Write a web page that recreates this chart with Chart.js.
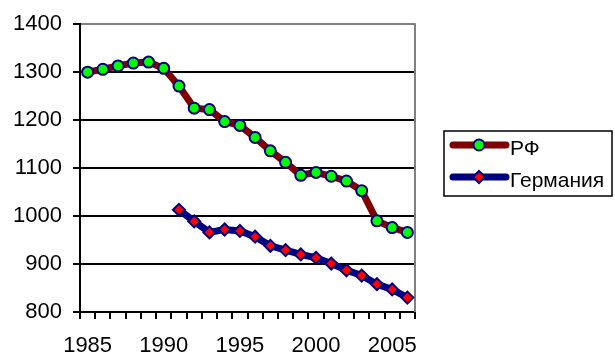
<!DOCTYPE html>
<html>
<head>
<meta charset="utf-8">
<script src="https://cdn.jsdelivr.net/npm/chart.js@4.4.1/dist/chart.umd.min.js"></script>
<style>
  html, body { margin: 0; padding: 0; background: #fff; }
</style>
</head>
<body>
<canvas id="chart" width="615" height="358"></canvas>
<script>
var years = ['1985', '1986', '1987', '1988', '1989', '1990', '1991', '1992', '1993', '1994', '1995',
  '1996', '1997', '1998', '1999', '2000', '2001', '2002', '2003', '2004', '2005', '2006'];
var rfData = [1300, 1306, 1313, 1319, 1321, 1308, 1271, 1225, 1222, 1197, 1189,
  1164, 1136, 1112, 1085, 1091, 1083, 1073, 1053, 990, 976, 966];
var germanyData = [null, null, null, null, null, null, 1013, 989, 966, 972, 969,
  957, 938, 929, 920, 913, 901, 887, 876, 858, 847, 830];
var seriesNames = ['РФ', 'Германия'];

// right plot border + boxed legend, Excel style
var frame = {
  id: 'frame',
  beforeDatasetsDraw: function(chart) {
    var a = chart.chartArea, ctx = chart.ctx;
    ctx.save();
    ctx.strokeStyle = '#808080';
    ctx.lineWidth = 2;
    ctx.beginPath();
    ctx.moveTo(a.right, a.top - 1);
    ctx.lineTo(a.right, a.bottom);
    ctx.stroke();
    ctx.restore();
  },
  afterDraw: function(chart) {
    var ctx = chart.ctx;
    ctx.save();
    ctx.strokeStyle = '#000';
    ctx.lineWidth = 1.5;
    ctx.strokeRect(444, 131, 168, 65);
    var rows = [145, 177];
    chart.data.datasets.forEach(function(ds, i) {
      var y = rows[i];
      ctx.strokeStyle = ds.borderColor;
      ctx.lineWidth = 7;
      ctx.lineCap = 'round';
      ctx.beginPath();
      ctx.moveTo(453, y);
      ctx.lineTo(506, y);
      ctx.stroke();
      ctx.fillStyle = ds.pointBackgroundColor;
      ctx.strokeStyle = ds.pointBorderColor;
      ctx.lineWidth = 2;
      ctx.beginPath();
      if (ds.pointStyle === 'rectRot') {
        ctx.moveTo(479, y - 6);
        ctx.lineTo(485, y);
        ctx.lineTo(479, y + 6);
        ctx.lineTo(473, y);
        ctx.closePath();
      } else {
        ctx.arc(479, y, 5.5, 0, Math.PI * 2);
      }
      ctx.fill();
      ctx.stroke();
      ctx.fillStyle = '#000';
      ctx.font = '21px "Liberation Sans", Arial, sans-serif';
      ctx.textBaseline = 'alphabetic';
      ctx.fillText(ds.label, 510, y + 10);
    });
    ctx.restore();
  }
};

var tickFont = { family: '"Liberation Sans", Arial, sans-serif', size: 22 };

new Chart(document.getElementById('chart'), {
  type: 'line',
  data: {
    labels: years,
    datasets: [
      {
        label: seriesNames[0],
        data: rfData,
        borderColor: '#800000',
        borderWidth: 7,
        tension: 0,
        pointStyle: 'circle',
        pointRadius: 5.5,
        pointBorderWidth: 2,
        pointBackgroundColor: '#00ff00',
        pointBorderColor: '#000080'
      },
      {
        label: seriesNames[1],
        data: germanyData,
        borderColor: '#000080',
        borderWidth: 7,
        tension: 0,
        pointStyle: 'rectRot',
        pointRadius: 6,
        pointBorderWidth: 2,
        pointBackgroundColor: '#ff0000',
        pointBorderColor: '#000080'
      }
    ]
  },
  options: {
    responsive: false,
    animation: false,
    devicePixelRatio: 1,
    layout: { padding: { top: 24, right: 200, left: 0, bottom: 0 } },
    plugins: { legend: { display: false }, tooltip: { enabled: false } },
    scales: {
      x: {
        offset: true,
        grid: { offset: true, drawOnChartArea: false, tickLength: 7, color: '#000', lineWidth: 2 },
        border: { color: '#000', width: 2 },
        ticks: {
          autoSkip: false, maxRotation: 0, padding: 14, color: '#000', font: tickFont,
          callback: function(v, i) { return Number(years[i]) % 5 === 0 ? years[i] : ''; }
        },
        afterFit: function(s) { s.height = 46; }
      },
      y: {
        min: 800,
        max: 1400,
        grid: {
          lineWidth: 2,
          tickLength: 7,
          tickColor: '#000',
          color: function(c) {
            if (c.tick.value === 1400) return '#808080';
            return c.tick.value % 100 === 0 ? '#000' : 'rgba(0,0,0,0)';
          }
        },
        border: { color: '#000', width: 2 },
        ticks: {
          stepSize: 50, padding: 11, color: '#000', font: tickFont,
          callback: function(v) { return v % 100 === 0 ? v : ''; }
        },
        afterFit: function(s) { s.width = 80; }
      }
    }
  },
  plugins: [frame]
});
</script>
</body>
</html>
